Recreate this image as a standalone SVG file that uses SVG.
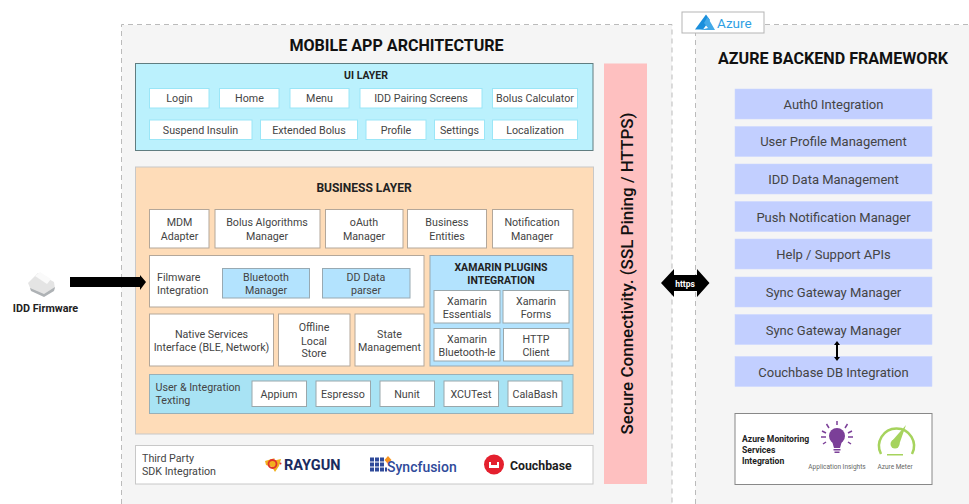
<svg xmlns="http://www.w3.org/2000/svg" width="969" height="504" viewBox="0 0 969 504">
<style>
text{font-family:Roboto,"Open Sans",sans-serif;fill:#444;font-size:10.7px;text-anchor:middle}
.b{fill:#fff;stroke:#b3a79a;stroke-width:1}
.u{fill:#fff;stroke:#9be6f7;stroke-width:1}
.k{fill:#fff;stroke:#9aa7ab;stroke-width:1}
.bl{fill:#b3e3fe;stroke:#98a9b2;stroke-width:1}
.az{fill:#c2cfff;stroke:#ccd6ff;stroke-width:.5}
.t{font-size:16.1px;font-weight:700;fill:#111}
.h{font-size:10.5px;font-weight:700;fill:#222}
.az+text{font-size:13px}
.l{text-anchor:start}
.panel{fill:#f5f5f5;stroke:none}
.dash{fill:none;stroke:#bbb;stroke-dasharray:5 4}
.m{font-size:8.6px;font-weight:700;fill:#222}
.s{font-size:6.5px;fill:#666}
</style>
<rect width="969" height="504" fill="#fff"/>
<g id="mobile-panel">
<rect class="panel" x="121.5" y="25" width="550.5" height="479"/>
<path class="dash" d="M121.5 504V24.500H672V504"/>
<text class="t" x="396.500" y="50.500">MOBILE APP ARCHITECTURE</text>
</g>
<g id="azure-panel">
<rect class="panel" x="695.500" y="25" width="273.500" height="479"/>
<path class="dash" d="M695.500 504V24.500H969"/>
<text class="t" x="833" y="64">AZURE BACKEND FRAMEWORK</text>
</g>
<g id="azure-tag">
<rect x="682" y="12" width="82" height="21" fill="#fff" stroke="#b5b5b5"/>
<path d="M706 14.500L695 29.500H703L710 20Z" fill="#1a8fdc"/>
<path d="M707.500 17L715 30H700L708 28L704 23Z" fill="#43a9e8"/>
<text x="717" y="28" class="l" style="font-size:13.500px;fill:#2f9fe3">Azure</text>
</g>
<g id="ui-layer">
<rect x="135.500" y="63.500" width="457.500" height="87" fill="#bbf1fd" stroke="#607d80"/>
<text class="h" x="366" y="78.500">UI LAYER</text>
</g>
<g id="login"><rect class="u" x="149.500" y="88.500" width="59.500" height="19.500"/><text x="179.500" y="102">Login</text></g>
<g id="home"><rect class="u" x="219.500" y="88.500" width="59.500" height="19.500"/><text x="249.500" y="102">Home</text></g>
<g id="menu"><rect class="u" x="290" y="88.500" width="59" height="19.500"/><text x="319.500" y="102">Menu</text></g>
<g id="idd-pairing"><rect class="u" x="360" y="88.500" width="122" height="19.500"/><text x="421" y="102">IDD Pairing Screens</text></g>
<g id="bolus-calculator"><rect class="u" x="492.500" y="88.500" width="85" height="19.500"/><text x="535" y="102">Bolus Calculator</text></g>
<g id="suspend"><rect class="u" x="149.500" y="120" width="102.500" height="19.500"/><text x="200.500" y="134">Suspend Insulin</text></g>
<g id="extended"><rect class="u" x="260.500" y="120" width="97" height="19.500"/><text x="309" y="134">Extended Bolus</text></g>
<g id="profile"><rect class="u" x="366" y="120" width="60" height="19.500"/><text x="396" y="134">Profile</text></g>
<g id="settings"><rect class="u" x="434.500" y="120" width="50" height="19.500"/><text x="459.500" y="134">Settings</text></g>
<g id="localization"><rect class="u" x="492.500" y="120" width="85" height="19.500"/><text x="535" y="134">Localization</text></g>
<g id="secure">
<rect x="604" y="63.500" width="43" height="420.500" fill="#fec0c0"/>
<text transform="translate(632.500 273.500) rotate(-90)" style="font-size:17px;font-weight:500;fill:#111">Secure Connectivity. (SSL Pining / HTTPS)</text>
</g>
<g id="business-layer">
<rect x="135.500" y="167" width="458" height="267" fill="#fedcb8" stroke="#c8c8c8"/>
<text class="h" x="364" y="191.500" style="font-size:12px">BUSINESS LAYER</text>
</g>
<g id="mdm"><rect class="b" x="149.500" y="209.500" width="59.500" height="38.500"/><text x="179.500" y="226">MDM</text><text x="179.500" y="240">Adapter</text></g>
<g id="bolus-alg"><rect class="b" x="215" y="209.500" width="105" height="38.500"/><text x="267" y="226">Bolus Algorithms</text><text x="267" y="240">Manager</text></g>
<g id="oauth"><rect class="b" x="325.500" y="209.500" width="77.500" height="38.500"/><text x="364" y="226">oAuth</text><text x="364" y="240">Manager</text></g>
<g id="entities"><rect class="b" x="407.500" y="209.500" width="79" height="38.500"/><text x="447" y="226">Business</text><text x="447" y="240">Entities</text></g>
<g id="notification"><rect class="b" x="492.500" y="209.500" width="80.500" height="38.500"/><text x="532" y="226">Notification</text><text x="532" y="240">Manager</text></g>
<g id="firmware-integration">
<rect class="b" x="149.500" y="255.500" width="274.500" height="51.500"/>
<text class="l" x="157" y="281">Filmware</text><text class="l" x="157" y="294">Integration</text>
</g>
<g id="bluetooth"><rect class="bl" x="222.500" y="268.500" width="87" height="29.500"/><text x="266" y="281">Bluetooth</text><text x="266" y="294">Manager</text></g>
<g id="dd-parser"><rect class="bl" x="322.500" y="268.500" width="87.500" height="29.500"/><text x="366" y="281">DD Data</text><text x="366" y="294">parser</text></g>
<g id="native"><rect class="b" x="149.500" y="314" width="124" height="52"/><text x="211.500" y="338">Native Services</text><text x="211.500" y="351">Interface (BLE, Network)</text></g>
<g id="offline"><rect class="b" x="278.500" y="314" width="71.500" height="52"/><text x="314" y="331">Offline</text><text x="314" y="344.500">Local</text><text x="314" y="357">Store</text></g>
<g id="state"><rect class="b" x="355" y="314" width="69" height="52"/><text x="389.500" y="338">State</text><text x="389.500" y="351">Management</text></g>
<g id="xamarin">
<rect class="bl" x="430" y="255.500" width="143" height="110.500"/>
<text class="h" x="501" y="271">XAMARIN PLUGINS</text><text class="h" x="501" y="284">INTEGRATION</text>
</g>
<g id="x-ess"><rect class="k" x="434" y="290.500" width="66" height="32.500"/><text x="467" y="304.500">Xamarin</text><text x="467" y="317.500">Essentials</text></g>
<g id="x-forms"><rect class="k" x="503" y="290.500" width="66" height="32.500"/><text x="536" y="304.500">Xamarin</text><text x="536" y="317.500">Forms</text></g>
<g id="x-ble"><rect class="k" x="434" y="328.500" width="66" height="32.500"/><text x="467" y="342.500">Xamarin</text><text x="467" y="355.500">Bluetooth-le</text></g>
<g id="x-http"><rect class="k" x="503.500" y="328.500" width="65.500" height="32.500"/><text x="536" y="342.500">HTTP</text><text x="536" y="355.500">Client</text></g>
<g id="testing">
<rect x="149.500" y="374.500" width="423.500" height="39" fill="#a8e3f4" stroke="#98b0b8"/>
<text class="l" x="155.500" y="391">User &amp; Integration</text><text class="l" x="155.500" y="404">Texting</text>
</g>
<g id="appium"><rect class="k" x="252" y="381" width="54.500" height="25.500"/><text x="279" y="398">Appium</text></g>
<g id="espresso"><rect class="k" x="316" y="381" width="54.500" height="25.500"/><text x="343" y="398">Espresso</text></g>
<g id="nunit"><rect class="k" x="380" y="381" width="54.500" height="25.500"/><text x="407" y="398">Nunit</text></g>
<g id="xcutest"><rect class="k" x="444" y="381" width="54.500" height="25.500"/><text x="471" y="398">XCUTest</text></g>
<g id="calabash"><rect class="k" x="508" y="381" width="54" height="25.500"/><text x="535" y="398">CalaBash</text></g>
<g id="third-party">
<rect x="135.500" y="445.500" width="457.500" height="38.500" fill="#fff" stroke="#c8c8c8"/>
<text class="l" x="142" y="462">Third Party</text><text class="l" x="142" y="475">SDK Integration</text>
<path d="M265 461L275 458L272 461L281 459L279 466L275 472L272 467L266 465Z" fill="#f2b01e"/>
<circle cx="272.500" cy="464" r="4" fill="none" stroke="#e0322b" stroke-width="1.800"/>
<circle cx="280.500" cy="463.500" r="1" fill="#e0322b"/>
<text class="l" x="284" y="469.500" style="font-size:14.500px;font-weight:700;fill:#1a2a5e">RAYGUN</text>
<g fill="#2f4a9a">
<rect x="370" y="457.500" width="4" height="4"/><rect x="375" y="457.500" width="4" height="4"/><rect x="380" y="457.500" width="4" height="4"/>
<rect x="370" y="462.500" width="4" height="4"/><rect x="375" y="462.500" width="4" height="4"/><rect x="380" y="462.500" width="4" height="4"/>
<rect x="370" y="467.500" width="4" height="4"/><rect x="375" y="467.500" width="4" height="4"/><rect x="380" y="467.500" width="4" height="4"/>
<rect x="385" y="467.500" width="2" height="4"/>
</g>
<path d="M384.500 460L388 456L391.500 460L388 464Z" fill="#f7941d"/>
<text class="l" x="387" y="472" style="font-size:14px;font-weight:500;fill:#2f4a9a">Syncfusion</text>
<circle cx="494" cy="464.500" r="10" fill="#e4202e"/>
<path d="M489 462V468H499V462H497V465H491V462Z" fill="#fff"/>
<text class="l" x="510" y="469.500" style="font-size:12.300px;font-weight:700;fill:#1c1c1c">Couchbase</text>
</g>
<g id="firmware">
<path d="M28 283L38 273L54 282L55 289L44 296L31 290Z" fill="#e4e4e4"/>
<path d="M30 288L44 294L55 287L54 291L44 297L31 291Z" fill="#aeb2b5"/>
<path d="M35 276L40 272L51 279L47 284Z" fill="#fafafa"/>
<text x="45.500" y="311.500" style="font-size:10.800px;font-weight:700;fill:#222">IDD Firmware</text>
</g>
<g id="auth0"><rect class="az" x="735" y="89" width="197" height="30"/><text x="833.500" y="108.500">Auth0 Integration</text></g>
<g id="user-profile"><rect class="az" x="735" y="126.500" width="197" height="30"/><text x="833.500" y="146">User Profile Management</text></g>
<g id="idd-data"><rect class="az" x="735" y="164" width="197" height="30"/><text x="833.500" y="184">IDD Data Management</text></g>
<g id="push"><rect class="az" x="735" y="201.500" width="197" height="30"/><text x="833.500" y="221.500">Push Notification Manager</text></g>
<g id="help"><rect class="az" x="735" y="239" width="197" height="30"/><text x="833.500" y="259">Help / Support APIs</text></g>
<g id="sync1"><rect class="az" x="735" y="277" width="197" height="30"/><text x="833.500" y="297">Sync Gateway Manager</text></g>
<g id="sync2"><rect class="az" x="735" y="314.500" width="197" height="30"/><text x="833.500" y="334.500">Sync Gateway Manager</text></g>
<g id="couchbase-db"><rect class="az" x="735" y="356.500" width="197" height="30"/><text x="833.500" y="376.500">Couchbase DB Integration</text></g>
<g id="monitoring">
<rect x="735" y="413.500" width="197" height="71" fill="#fff" stroke="#888"/>
<text class="l m" x="742" y="442">Azure Monitoring</text>
<text class="l m" x="742" y="453">Services</text>
<text class="l m" x="742" y="463.500">Integration</text>
<g fill="#7b3f98">
<circle cx="837" cy="436" r="8"/><path d="M832 441H842L840 448H834Z"/>
<rect x="833.500" y="449" width="7" height="1.500"/><rect x="834.500" y="451.500" width="5" height="1.500"/>
</g>
<path d="M837 421V425M826.500 424L829 428M847.500 424L845 428M822 431L826 433M852 431L848 433M821 437H826M853 437H848M823 444L826 442M851 444L848 442" stroke="#7b3f98" stroke-width="1.500" fill="none"/>
<text class="s" x="837" y="468.500">Application Insights</text>
<path d="M881 454A17.500 17.500 0 1 1 912 454" fill="none" stroke="#a6d35d" stroke-width="2.500"/>
<path d="M892 441L906 425L899 445Z" fill="#a6d35d"/>
<circle cx="895" cy="444" r="4.500" fill="#a6d35d"/>
<rect x="887" y="454" width="16" height="1.500" fill="#a6d35d"/>
<text class="s" x="895" y="468.500">Azure Meter</text>
</g>
<g id="connectors">
<path d="M70 277H140V275L146 282L140 290V287H70Z" fill="#000"/>
<path d="M661 283L674 269V275H697V269L709.500 283L697 297V291H674V297Z" fill="#000"/>
<path d="M837 341L840 345H838V357H840L837 361L834 357H836V345H834Z" fill="#000"/>
<text x="685" y="286.500" style="font-size:8.500px;font-weight:700;fill:#fff">https</text>
</g>
</svg>
